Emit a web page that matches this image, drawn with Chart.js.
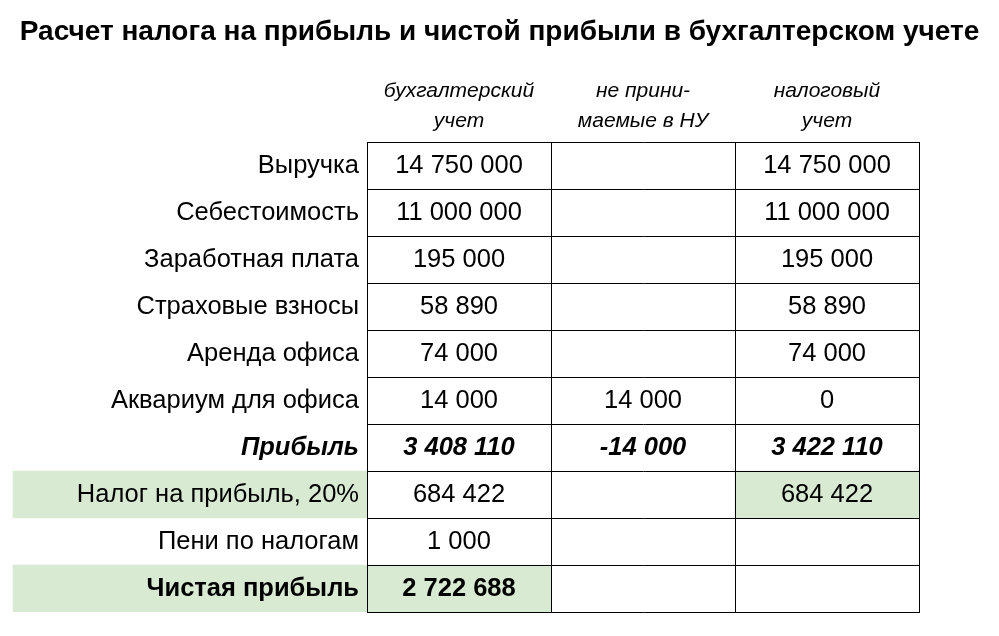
<!DOCTYPE html>
<html lang="ru">
<head>
<meta charset="UTF-8">
<title>Расчет налога на прибыль</title>
<script src="https://cdn.jsdelivr.net/npm/chart.js"></script>
<style>
  body { margin: 0; background: #fff; }
  #wrap { width: 999px; height: 636px; position: relative; }
</style>
</head>
<body>
<div id="wrap"><canvas id="taxTable"></canvas></div>
<script>
  // --- данные таблицы ---
  const rowLabels = [
    'Выручка', 'Себестоимость', 'Заработная плата', 'Страховые взносы', 'Аренда офиса',
    'Аквариум для офиса', 'Прибыль', 'Налог на прибыль, 20%', 'Пени по налогам', 'Чистая прибыль'
  ];
  const colHeaders = [['бухгалтерский', 'учет'], ['не прини-', 'маемые в НУ'], ['налоговый', 'учет']];
  const bookValues = [14750000, 11000000, 195000, 58890, 74000, 14000, 3408110, 684422, 1000, 2722688];
  const nonDeductValues = [null, null, null, null, null, 14000, -14000, null, null, null];
  const taxValues = [14750000, 11000000, 195000, 58890, 74000, 0, 3422110, 684422, null, null];

  // выделение зеленым
  const greenLabelRows = ['Налог на прибыль, 20%', 'Чистая прибыль'];
  const greenCells = [{ row: 'Налог на прибыль, 20%', col: 2 }, { row: 'Чистая прибыль', col: 0 }];
  const boldItalicRows = ['Прибыль'];
  const boldRows = ['Чистая прибыль'];

  // --- оформление ---
  const FONT = '"Liberation Sans", Arial, sans-serif';
  const GREEN = '#d9ead3';
  const COL_PX = 184;              // ширина колонки значений
  const X_MIN = -367 / COL_PX;     // левая граница холста
  const X_MAX = 3 + 80 / COL_PX;   // правая граница холста
  const LABEL_START = -354 / COL_PX;

  function fmt(n) {
    const s = String(Math.abs(n)).replace(/\B(?=(\d{3})+(?!\d))/g, ' ');
    return n < 0 ? '-' + s : s;
  }

  const tablePlugin = {
    id: 'tableDraw',
    afterDatasetsDraw(chart) {
      const { ctx, scales: { x, y }, chartArea } = chart;
      const left = Math.round(x.getPixelForValue(0));
      const right = Math.round(x.getPixelForValue(3));
      ctx.save();

      // сетка
      ctx.strokeStyle = '#000';
      ctx.lineWidth = 1;
      ctx.beginPath();
      for (let i = 0; i <= rowLabels.length; i++) {
        const py = Math.round(y.getPixelForValue(i - 0.5)) + 0.5;
        ctx.moveTo(left, py);
        ctx.lineTo(right + 1, py);
      }
      const top = Math.round(y.getPixelForValue(-0.5)) + 0.5;
      const bottom = Math.round(y.getPixelForValue(rowLabels.length - 0.5)) + 0.5;
      for (let c = 0; c <= 3; c++) {
        const px = Math.round(x.getPixelForValue(c)) + 0.5;
        ctx.moveTo(px, top);
        ctx.lineTo(px, bottom);
      }
      ctx.stroke();

      // заголовки колонок
      ctx.fillStyle = '#000';
      ctx.textAlign = 'center';
      ctx.textBaseline = 'middle';
      ctx.font = 'italic 21px ' + FONT;
      colHeaders.forEach((lines, c) => {
        const cx = x.getPixelForValue(c + 0.5);
        ctx.fillText(lines[0], cx, chartArea.top - 51);
        ctx.fillText(lines[1], cx, chartArea.top - 21);
      });

      // строки
      rowLabels.forEach((lab, i) => {
        const cy = y.getPixelForValue(i);
        let style = '';
        if (boldItalicRows.includes(lab)) style = 'italic bold ';
        else if (boldRows.includes(lab)) style = 'bold ';
        ctx.font = style + '25.5px ' + FONT;
        ctx.textAlign = 'right';
        ctx.fillText(lab, left - 8, cy);
        ctx.textAlign = 'center';
        [bookValues, nonDeductValues, taxValues].forEach((arr, c) => {
          if (arr[i] === null) return;
          ctx.fillText(fmt(arr[i]), x.getPixelForValue(c + 0.5), cy);
        });
      });
      ctx.restore();
    }
  };

  new Chart(document.getElementById('taxTable'), {
    type: 'bar',
    data: {
      labels: rowLabels,
      datasets: [
        {
          data: rowLabels.map(l => greenLabelRows.includes(l) ? [LABEL_START, 0] : null),
          backgroundColor: GREEN
        },
        {
          data: rowLabels.map(l => {
            const g = greenCells.find(c => c.row === l);
            return g ? [g.col, g.col + 1] : null;
          }),
          backgroundColor: GREEN
        }
      ]
    },
    options: {
      indexAxis: 'y',
      responsive: true,
      maintainAspectRatio: false,
      animation: false,
      grouped: false,
      barPercentage: 1,
      categoryPercentage: 1,
      borderWidth: 0,
      layout: { padding: { left: 0, right: 0, top: 0, bottom: 24 } },
      scales: {
        x: { type: 'linear', min: X_MIN, max: X_MAX, display: false },
        y: { type: 'category', display: false, offset: true }
      },
      plugins: {
        legend: { display: false },
        tooltip: { enabled: false },
        title: {
          display: true,
          text: 'Расчет налога на прибыль и чистой прибыли в бухгалтерском учете',
          color: '#000',
          font: { family: FONT, size: 28, weight: 'bold' },
          padding: { top: 15, bottom: 93.4 }
        }
      }
    },
    plugins: [tablePlugin]
  });
</script>
</body>
</html>
